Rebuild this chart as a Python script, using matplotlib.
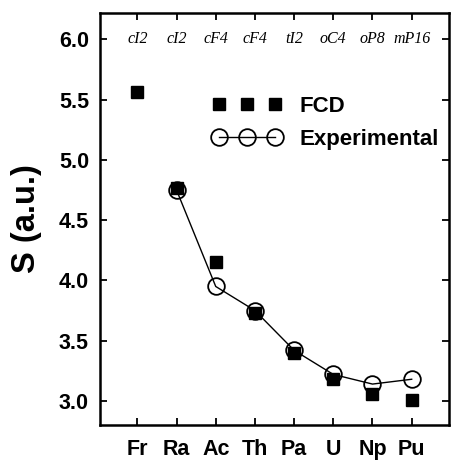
import numpy as np
import matplotlib
matplotlib.use('Agg')
import matplotlib.pyplot as plt

plt.rcParams['font.family'] = ['Liberation Sans', 'DejaVu Sans']

elements = ['Fr', 'Ra', 'Ac', 'Th', 'Pa', 'U', 'Np', 'Pu']
structures = ['cI2', 'cI2', 'cF4', 'cF4', 'tI2', 'oC4', 'oP8', 'mP16']
fcd = [5.56, 4.77, 4.15, 3.73, 3.40, 3.18, 3.06, 3.01]
exp_elements = ['Ra', 'Ac', 'Th', 'Pa', 'U', 'Np', 'Pu']
experimental = [4.75, 3.95, 3.75, 3.42, 3.22, 3.14, 3.18]


def draw_chart(ofpath):
    fig = plt.figure(figsize=(4.53, 4.62), dpi=100)
    ax = fig.add_axes([0.221, 0.08, 0.770, 0.892])

    ind = np.arange(1, len(elements) + 1)
    exp_ind = [elements.index(e) + 1 for e in exp_elements]

    ax.plot(ind, fcd, 's', color='black', markersize=8.5, label='FCD')
    ax.plot(exp_ind, experimental, '-o', color='black', markerfacecolor='none',
            markeredgewidth=1.3, linewidth=1.0, markersize=12,
            label='Experimental')

    for x, s in zip(ind, structures):
        ax.text(x, 6.0, s, ha='center', va='center', fontsize=11.5,
                family='Liberation Serif', style='italic')

    ax.set_xlim(0.05, 8.95)
    ax.set_ylim(2.8, 6.22)
    ax.set_xticks(ind)
    ax.set_xticklabels(elements)
    ax.set_yticks(np.arange(3.0, 6.01, 0.5))
    ax.set_yticklabels(['%.1f' % v for v in np.arange(3.0, 6.01, 0.5)])
    for lab in ax.get_xticklabels() + ax.get_yticklabels():
        lab.set_fontweight('bold')
        lab.set_fontsize(15.5)
    ax.tick_params(direction='in', top=True, right=True, length=5, width=1.3)
    ax.tick_params(axis='x', pad=10)
    ax.tick_params(axis='y', pad=8)
    for sp in ax.spines.values():
        sp.set_linewidth(1.8)

    ax.set_ylabel('S (a.u.)', fontsize=23.5, fontweight='bold', labelpad=12)

    ax.legend(loc='upper left', bbox_to_anchor=(0.265, 0.847), frameon=False,
              numpoints=3, handlelength=3.1, handletextpad=0.8,
              labelspacing=0.55, prop={'weight': 'bold', 'size': 16})

    fig.savefig(ofpath, dpi=100)
    plt.close(fig)


if __name__ == '__main__':
    draw_chart('out.png')
